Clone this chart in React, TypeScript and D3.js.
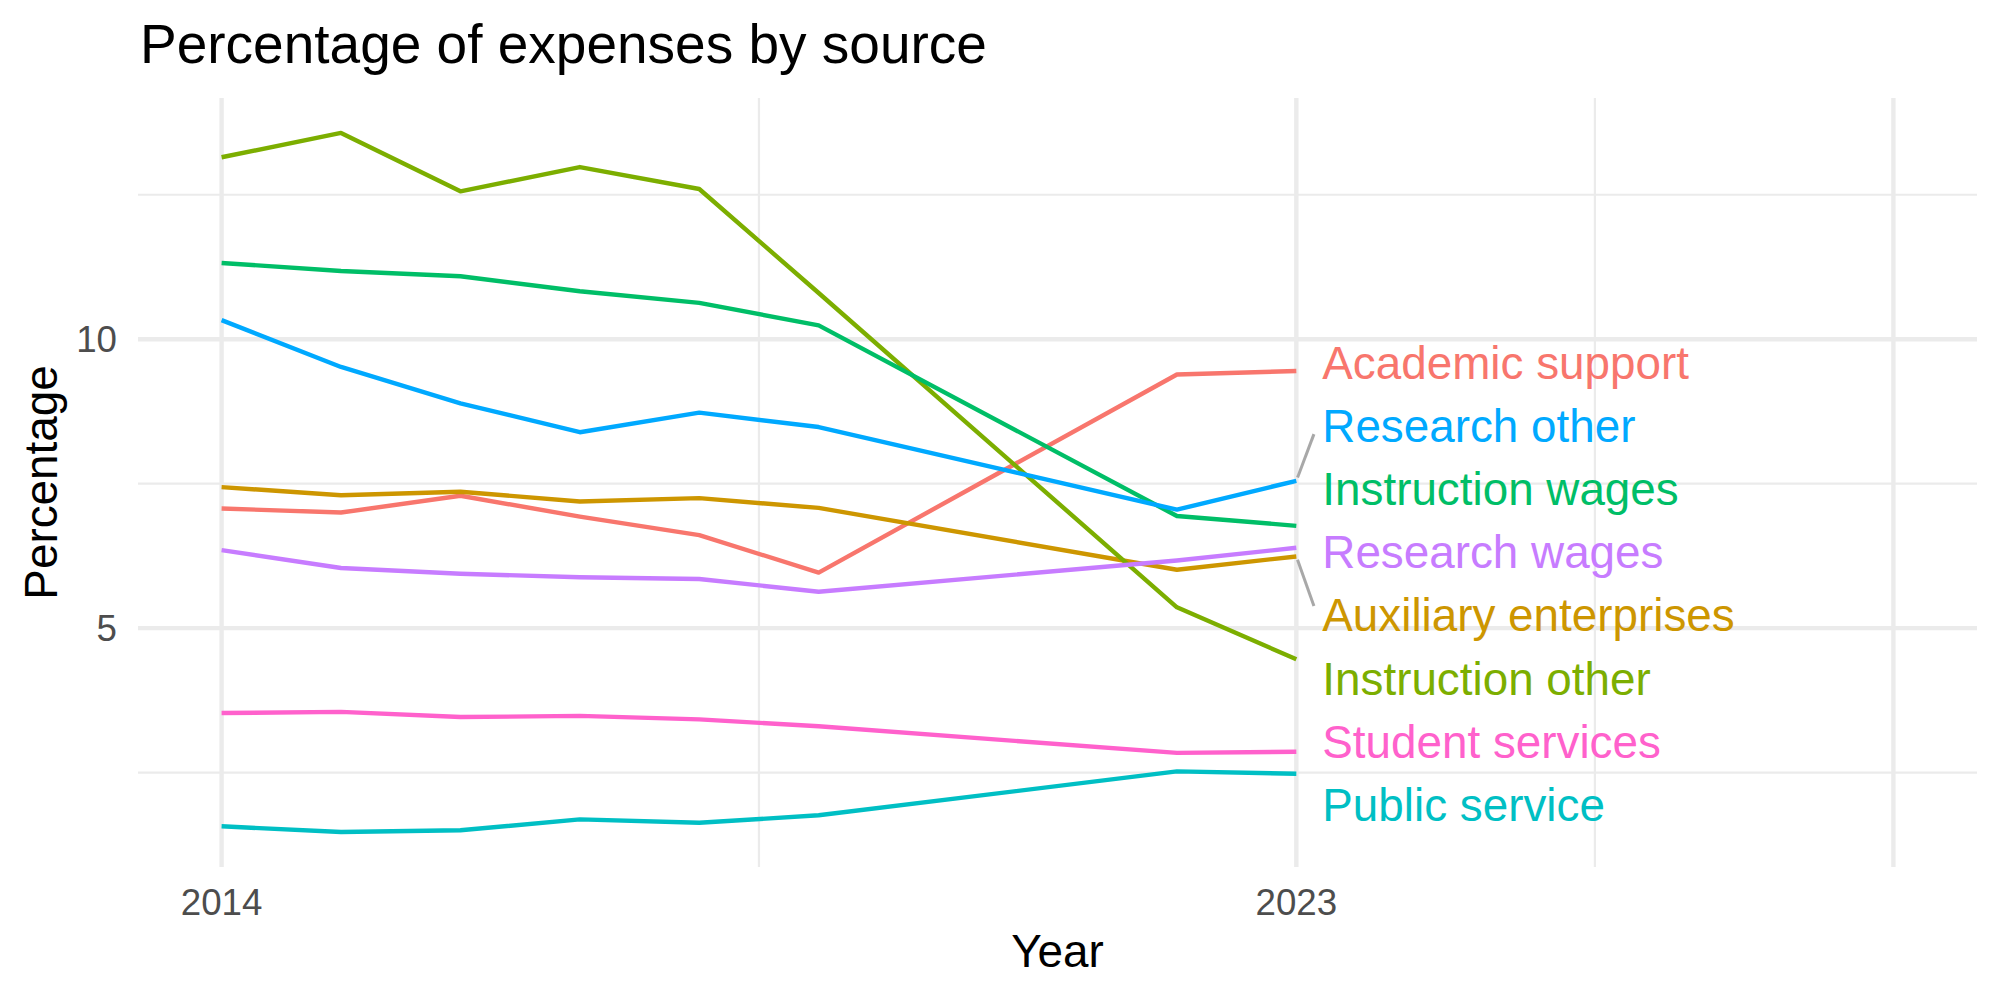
import React, { useEffect, useRef } from "react";
import * as d3 from "d3";

// yearly share of expenses (%), one array per source
const years = [2014, 2015, 2016, 2017, 2018, 2019, 2022, 2023];

const academicSupport = [7.07, 7.0, 7.29, 6.93, 6.61, 5.96, 9.39, 9.45];
const auxiliaryEnterprises = [7.44, 7.3, 7.36, 7.19, 7.25, 7.08, 6.01, 6.24];
const instructionOther = [13.15, 13.57, 12.56, 12.98, 12.6, 10.8, 5.36, 4.46];
const instructionWages = [11.32, 11.18, 11.09, 10.83, 10.63, 10.24, 6.94, 6.77];
const publicService = [1.57, 1.47, 1.5, 1.69, 1.63, 1.76, 2.52, 2.48];
const researchOther = [10.33, 9.52, 8.89, 8.39, 8.73, 8.48, 7.05, 7.55];
const researchWages = [6.35, 6.04, 5.94, 5.88, 5.85, 5.63, 6.17, 6.39];
const studentServices = [3.53, 3.55, 3.46, 3.48, 3.42, 3.3, 2.84, 2.86];

const sources = [
    "Academic support",
    "Auxiliary enterprises",
    "Instruction other",
    "Instruction wages",
    "Public service",
    "Research other",
    "Research wages",
    "Student services",
];
const sourceValues = [
    academicSupport,
    auxiliaryEnterprises,
    instructionOther,
    instructionWages,
    publicService,
    researchOther,
    researchWages,
    studentServices,
];

const xBreaks = [2014, 2023, 2028];
const xTickLabels = ["2014", "2023", ""];
const yBreaks = [5, 10];
const yTickLabels = ["5", "10"];

interface Series {
    name: string;
    values: { year: number; value: number }[];
}

const App: React.FC = () => {
    const svgRef = useRef<SVGSVGElement | null>(null);

    useEffect(() => {
        if (!svgRef.current) return;

        const width = 2000;
        const height = 1000;
        const panel = { left: 138, right: 1977, top: 98, bottom: 867 };
        const font = "'Liberation Sans', Arial, Helvetica, sans-serif";

        const svg = d3.select(svgRef.current)
            .attr("width", width)
            .attr("height", height);
        svg.selectAll("*").remove();

        const series: Series[] = sources.map((name, i) => ({
            name,
            values: years.map((year, j) => ({ year, value: sourceValues[i][j] })),
        }));

        const color = d3.scaleOrdinal<string, string>()
            .domain(sources)
            .range(["#F8766D", "#CD9600", "#7CAE00", "#00BE67", "#00BFC4", "#00A9FF", "#C77CFF", "#FF61CC"]);

        // 5% padding either side, ggplot style
        const xLim = [2014, 2028];
        const xPad = (xLim[1] - xLim[0]) * 0.05;
        const x = d3.scaleLinear()
            .domain([xLim[0] - xPad, xLim[1] + xPad])
            .range([panel.left, panel.right]);

        const allValues = sourceValues.flat();
        const yMin = d3.min(allValues)!;
        const yMax = d3.max(allValues)!;
        const yPad = (yMax - yMin) * 0.05;
        const y = d3.scaleLinear()
            .domain([yMin - yPad, yMax + yPad])
            .range([panel.bottom, panel.top]);

        // grid
        const grid = svg.append("g");
        const xMinor = d3.pairs(xBreaks).map(([a, b]) => (a + b) / 2);
        const yMinor = [yBreaks[0] - 2.5, ...d3.pairs(yBreaks).map(([a, b]) => (a + b) / 2), yBreaks[yBreaks.length - 1] + 2.5];

        grid.selectAll("line.ymin")
            .data(yMinor)
            .enter()
            .append("line")
            .attr("x1", panel.left).attr("x2", panel.right)
            .attr("y1", d => y(d)).attr("y2", d => y(d))
            .attr("stroke", "#EBEBEB").attr("stroke-width", 2.2);
        grid.selectAll("line.xmin")
            .data(xMinor)
            .enter()
            .append("line")
            .attr("y1", panel.top).attr("y2", panel.bottom)
            .attr("x1", d => x(d)).attr("x2", d => x(d))
            .attr("stroke", "#EBEBEB").attr("stroke-width", 2.2);
        grid.selectAll("line.ymaj")
            .data(yBreaks)
            .enter()
            .append("line")
            .attr("x1", panel.left).attr("x2", panel.right)
            .attr("y1", d => y(d)).attr("y2", d => y(d))
            .attr("stroke", "#EBEBEB").attr("stroke-width", 4.4);
        grid.selectAll("line.xmaj")
            .data(xBreaks)
            .enter()
            .append("line")
            .attr("y1", panel.top).attr("y2", panel.bottom)
            .attr("x1", d => x(d)).attr("x2", d => x(d))
            .attr("stroke", "#EBEBEB").attr("stroke-width", 4.4);

        // lines
        const line = d3.line<{ year: number; value: number }>()
            .x(d => x(d.year))
            .y(d => y(d.value));

        svg.append("g")
            .selectAll("path")
            .data(series)
            .enter()
            .append("path")
            .attr("d", d => line(d.values))
            .attr("fill", "none")
            .attr("stroke", d => color(d.name))
            .attr("stroke-width", 4.4)
            .attr("stroke-linejoin", "round");

        // end labels, stacked so they don't overlap
        const gap = 63.2;
        const ends = series
            .map(s => ({ name: s.name, target: y(s.values[s.values.length - 1].value), pos: 0 }))
            .sort((a, b) => a.target - b.target);

        let groups = ends.map(e => ({ items: [e], top: e.target }));
        let merged = true;
        while (merged) {
            merged = false;
            for (let i = 0; i < groups.length - 1; i++) {
                const a = groups[i];
                const b = groups[i + 1];
                if (a.top + a.items.length * gap > b.top) {
                    const items = a.items.concat(b.items);
                    const mean = d3.mean(items, d => d.target)!;
                    groups.splice(i, 2, { items, top: mean - (items.length - 1) / 2 * gap });
                    merged = true;
                    break;
                }
            }
        }
        groups.forEach(g => g.items.forEach((e, k) => { e.pos = g.top + k * gap; }));

        const xEnd = x(years[years.length - 1]);
        const labelX = xEnd + 26;

        const withSegment = ends.filter(e => Math.abs(e.pos - e.target) > 45);
        svg.append("g")
            .selectAll("line")
            .data(withSegment)
            .enter()
            .append("line")
            .each(function (d) {
                const dir = d.pos < d.target ? -1 : 1;
                const ex = labelX - 8.4;
                const ey = d.pos - dir * 8.8;
                const dx = ex - xEnd;
                const dy = ey - d.target;
                const len = Math.sqrt(dx * dx + dy * dy);
                d3.select(this)
                    .attr("x1", xEnd + dx / len * 3.5)
                    .attr("y1", d.target + dy / len * 3.5)
                    .attr("x2", ex)
                    .attr("y2", ey);
            })
            .attr("stroke", "#A8A8A8")
            .attr("stroke-width", 3);

        svg.append("g")
            .selectAll("text")
            .data(ends)
            .enter()
            .append("text")
            .attr("x", labelX)
            .attr("y", d => d.pos)
            .attr("dy", "0.36em")
            .text(d => d.name)
            .style("fill", d => color(d.name))
            .style("font-size", "45.8px")
            .style("font-family", font);

        // axis tick labels
        svg.append("g")
            .selectAll("text")
            .data(xBreaks)
            .enter()
            .append("text")
            .attr("x", d => x(d))
            .attr("y", 915)
            .attr("text-anchor", "middle")
            .text((d, i) => xTickLabels[i])
            .style("fill", "#4D4D4D")
            .style("font-size", "36.7px")
            .style("font-family", font);

        svg.append("g")
            .selectAll("text")
            .data(yBreaks)
            .enter()
            .append("text")
            .attr("x", 117)
            .attr("y", d => y(d))
            .attr("dy", "0.36em")
            .attr("text-anchor", "end")
            .text((d, i) => yTickLabels[i])
            .style("fill", "#4D4D4D")
            .style("font-size", "36.7px")
            .style("font-family", font);

        // titles
        svg.append("text")
            .attr("x", (panel.left + panel.right) / 2)
            .attr("y", 967)
            .attr("text-anchor", "middle")
            .text("Year")
            .style("fill", "#000")
            .style("font-size", "45.8px")
            .style("font-family", font);

        svg.append("text")
            .attr("transform", `translate(57,${(panel.top + panel.bottom) / 2}) rotate(-90)`)
            .attr("text-anchor", "middle")
            .text("Percentage")
            .style("fill", "#000")
            .style("font-size", "45.8px")
            .style("font-family", font);

        svg.append("text")
            .attr("x", panel.left + 2)
            .attr("y", 63)
            .text("Percentage of expenses by source")
            .style("fill", "#000")
            .style("font-size", "55px")
            .style("font-family", font);
    }, []);

    return (
        <svg ref={svgRef} style={{ position: "absolute", left: 0, top: 0, background: "#fff" }}></svg>
    );
};

export default App;
